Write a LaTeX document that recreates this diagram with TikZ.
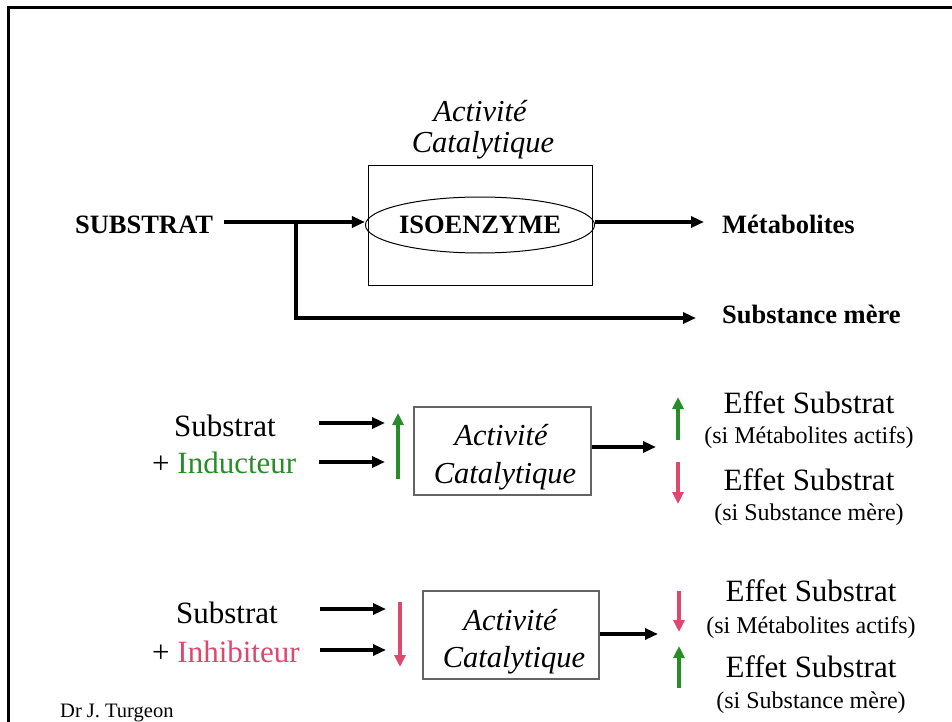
\documentclass[tikz,border=0pt]{standalone}
\usepackage{fontspec}
\setmainfont{Liberation Serif}
\usetikzlibrary{arrows.meta,shapes.geometric}
\definecolor{ggreen}{RGB}{40,140,40}
\definecolor{gpink}{RGB}{222,72,110}
\definecolor{boxgray}{RGB}{100,100,100}
\tikzset{
  arr/.style={line width=3.2pt,-{Triangle[length=13pt,width=11pt]}},
  carr/.style={line width=3.5pt,-{Triangle[length=12pt,width=11pt]}},
  bigb/.style={font=\fontsize{26.5}{30}\selectfont\bfseries,inner sep=0pt},
  reg/.style={font=\fontsize{31}{36}\selectfont,inner sep=0pt},
  ital/.style={font=\fontsize{30.5}{36}\selectfont\itshape,inner sep=0pt},
  small/.style={font=\fontsize{24}{28}\selectfont,inner sep=0pt},
  gbox/.style={draw=boxgray,line width=1.3pt,inner sep=0pt},
}
\begin{document}
\begin{tikzpicture}[x=1pt,y=-1pt]
\useasboundingbox (0,0) rectangle (952,722);
\fill[white] (0,0) rectangle (952,722);
\draw[line width=3pt] (8,730) -- (8,8) -- (962,8);

% ---------- top ----------
\node[ital,anchor=base] (t1) at (480,122) {Activité};
\node[ital,anchor=base] (t2) at (483,153) {Catalytique};
\node[draw,line width=1pt,minimum width=224pt,minimum height=119pt,inner sep=0pt] (box1) at (480,225.5) {};
\node[draw,ellipse,line width=1pt,inner sep=0pt,minimum width=224pt,minimum height=56pt,
      font=\fontsize{26.5}{30}\selectfont\bfseries] (ell) at (480,225) {ISOENZYME};
\node[bigb,anchor=base] (subst) at (144,233) {SUBSTRAT};
\node[bigb,anchor=base west] (met) at (722,233) {Métabolites};
\node[bigb,anchor=base west] (sm) at (722,323) {Substance mère};

\coordinate (s0) at (224,222);
\coordinate (m1) at (704,222);
\coordinate (b0) at (296,222);
\coordinate (b1) at (696,318);
\draw[arr] (s0) -- (s0 -| ell.west);
\draw[arr] (s0 -| ell.east) -- (m1);
\draw[arr] (b0) |- (b1);

% ---------- middle ----------
\node[reg,anchor=base] (s1) at (225,436) {Substrat};
\node[reg,anchor=base west] (ind) at (152,473) {+ \textcolor{ggreen}{Inducteur}};
\coordinate (a1s) at (319,423); \coordinate (a1e) at (385,423);
\coordinate (a2s) at (319,462); \coordinate (a2e) at (385,462);
\draw[arr] (a1s) -- (a1e);
\draw[arr] (a2s) -- (a2e);
\coordinate (g1s) at (398,479); \coordinate (g1e) at (398,413);
\draw[carr,ggreen] (g1s) -- (g1e);
\node[gbox,minimum width=177pt,minimum height=88pt] (box2) at (502.5,451) {};
\node[ital,anchor=base] (b2a) at (501,445) {Activité};
\node[ital,anchor=base] (b2b) at (505,483) {Catalytique};
\coordinate (c2) at (656,447);
\draw[arr] (c2 -| box2.east) -- (c2);
\coordinate (g2s) at (678,440); \coordinate (g2e) at (678,397);
\draw[carr,ggreen] (g2s) -- (g2e);
\coordinate (p2s) at (678,462); \coordinate (p2e) at (678,504);
\draw[carr,gpink] (p2s) -- (p2e);
\node[reg,anchor=base] (e1) at (809,413) {Effet Substrat};
\node[small,anchor=base] (e1s) at (809,443) {(si Métabolites actifs)};
\node[reg,anchor=base] (e2) at (809,490) {Effet Substrat};
\node[small,anchor=base] (e2s) at (809,520) {(si Substance mère)};

% ---------- bottom ----------
\node[reg,anchor=base] (s2) at (227,623) {Substrat};
\node[reg,anchor=base west] (inh) at (152,662) {+ \textcolor{gpink}{Inhibiteur}};
\coordinate (a3s) at (320,609); \coordinate (a3e) at (386,609);
\coordinate (a4s) at (320,650); \coordinate (a4e) at (386,650);
\draw[arr] (a3s) -- (a3e);
\draw[arr] (a4s) -- (a4e);
\coordinate (p3s) at (400,602); \coordinate (p3e) at (400,667);
\draw[carr,gpink] (p3s) -- (p3e);
\node[gbox,minimum width=176pt,minimum height=88pt] (box3) at (511,635) {};
\node[ital,anchor=base] (b3a) at (510,630) {Activité};
\node[ital,anchor=base] (b3b) at (514,667) {Catalytique};
\coordinate (c3) at (658,634);
\draw[arr] (c3 -| box3.east) -- (c3);
\coordinate (p4s) at (679,591); \coordinate (p4e) at (679,632);
\draw[carr,gpink] (p4s) -- (p4e);
\coordinate (g4s) at (679,688); \coordinate (g4e) at (679,646);
\draw[carr,ggreen] (g4s) -- (g4e);
\node[reg,anchor=base] (e3) at (811,601) {Effet Substrat};
\node[small,anchor=base] (e3s) at (811,633) {(si Métabolites actifs)};
\node[reg,anchor=base] (e4) at (811,677) {Effet Substrat};
\node[small,anchor=base] (e4s) at (811,708) {(si Substance mère)};

\node[font=\fontsize{20.5}{24}\selectfont,inner sep=0pt,anchor=base west] (dr) at (60,717) {Dr J. Turgeon};
\end{tikzpicture}
\end{document}
